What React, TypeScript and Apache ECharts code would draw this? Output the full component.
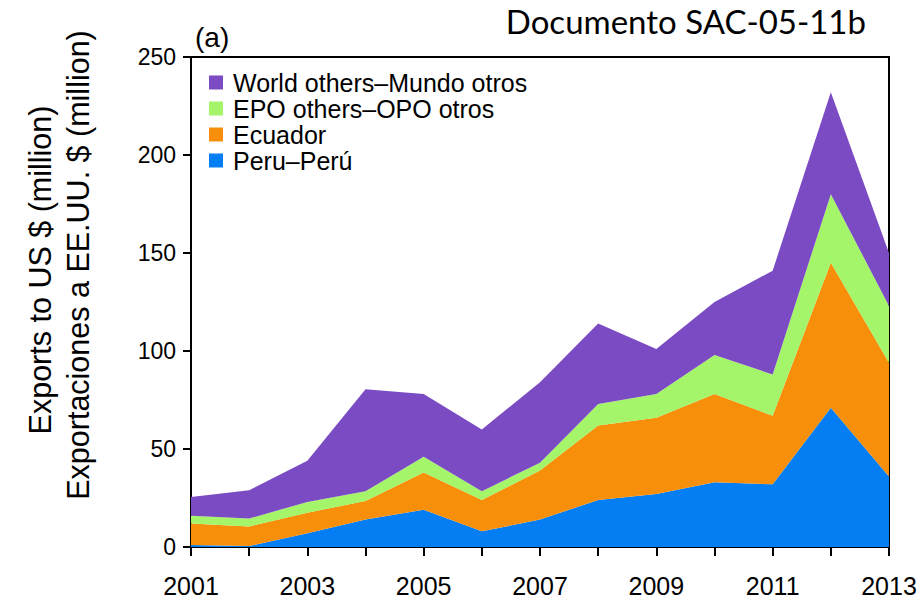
import React, { useEffect, useRef } from "react";
import * as echarts from "echarts";

const years = ["2001","2002","2003","2004","2005","2006","2007","2008","2009","2010","2011","2012","2013"];
const peru = [1, 0.5, 7, 14, 19, 8, 14, 24, 27, 33, 32, 71, 36];
const ecuador = [11, 10, 10.5, 9.5, 19, 16, 25, 38, 39, 45, 35, 74, 58];
const epoOthers = [4, 4, 5.5, 5, 8, 4.5, 4, 11, 12, 20, 21, 35, 29];
const worldOthers = [9.5, 14.5, 21, 52, 32, 31.5, 41, 41, 23, 27, 53, 52, 27];
const seriesNames = ["Peru\u2013Perú", "Ecuador", "EPO others\u2013OPO otros", "World others\u2013Mundo otros"];
const seriesColors = ["#057DF3", "#F78F0B", "#A5F56A", "#7B4BC4"];
const yTicks = { min: 0, max: 250, interval: 50 };

const FONT = "Liberation Sans, Arial, sans-serif";

export default function App() {
  const ref = useRef<HTMLDivElement>(null);
  useEffect(() => {
    if (!ref.current) return;
    const chart = echarts.init(ref.current, null, { renderer: "svg" });
    const data = [peru, ecuador, epoOthers, worldOthers];
    chart.setOption({
      animation: false,
      textStyle: { fontFamily: FONT },
      grid: {
        left: 191, right: 35, top: 57, bottom: 56,
        show: true, borderColor: "#000", borderWidth: 2, backgroundColor: "transparent",
      },
      legend: {
        orient: "vertical",
        left: 204, top: 65,
        itemWidth: 14, itemHeight: 14, itemGap: 1,
        icon: "rect",
        data: [seriesNames[3], seriesNames[2], seriesNames[1], seriesNames[0]],
        textStyle: { fontSize: 25, lineHeight: 25, color: "#000", fontFamily: FONT, padding: [0, 0, 0, 5] },
      },
      xAxis: {
        type: "category",
        data: years,
        boundaryGap: false,
        axisLine: { show: true, lineStyle: { color: "#000", width: 2 } },
        axisTick: { show: true, interval: 0, length: 9, lineStyle: { color: "#000", width: 2 } },
        axisLabel: { interval: 1, fontSize: 25, color: "#000", margin: 26, fontFamily: FONT },
        splitLine: { show: false },
      },
      yAxis: {
        type: "value",
        min: yTicks.min, max: yTicks.max, interval: yTicks.interval,
        axisLine: { show: true, lineStyle: { color: "#000", width: 2 } },
        axisTick: { show: true, length: 8, lineStyle: { color: "#000", width: 2 } },
        axisLabel: { fontSize: 23, color: "#000", margin: 15, fontFamily: FONT },
        splitLine: { show: false },
      },
      series: data.map((d, i) => ({
        name: seriesNames[i],
        type: "line",
        stack: "total",
        data: d,
        symbol: "none",
        showSymbol: false,
        lineStyle: { width: 0 },
        areaStyle: { color: seriesColors[i], opacity: 1 },
        itemStyle: { color: seriesColors[i] },
        z: 2,
      })),
      graphic: [
        {
          type: "text", x: 40, y: 270, rotation: Math.PI / 2,
          style: { text: "Exports to US $ (million)", fontSize: 30.5, fontFamily: FONT, fill: "#000", textAlign: "center", textVerticalAlign: "middle" },
        },
        {
          type: "text", x: 78, y: 265, rotation: Math.PI / 2,
          style: { text: "Exportaciones a EE.UU. $ (million)", fontSize: 30.5, fontFamily: FONT, fill: "#000", textAlign: "center", textVerticalAlign: "middle" },
        },
        {
          type: "text", x: 195, y: 37,
          style: { text: "(a)", fontSize: 28, fontFamily: FONT, fill: "#000", textAlign: "left", textVerticalAlign: "middle" },
        },
        {
          type: "text", x: 866, y: 21,
          style: { text: "Documento SAC-05-11b", fontSize: 33, fontFamily: "Lato, Open Sans, sans-serif", fill: "#000", textAlign: "right", textVerticalAlign: "middle" },
        },
      ],
    });
    return () => chart.dispose();
  }, []);
  return <div ref={ref} style={{ width: 924, height: 603, position: "absolute", left: 0, top: 0 }} />;
}
